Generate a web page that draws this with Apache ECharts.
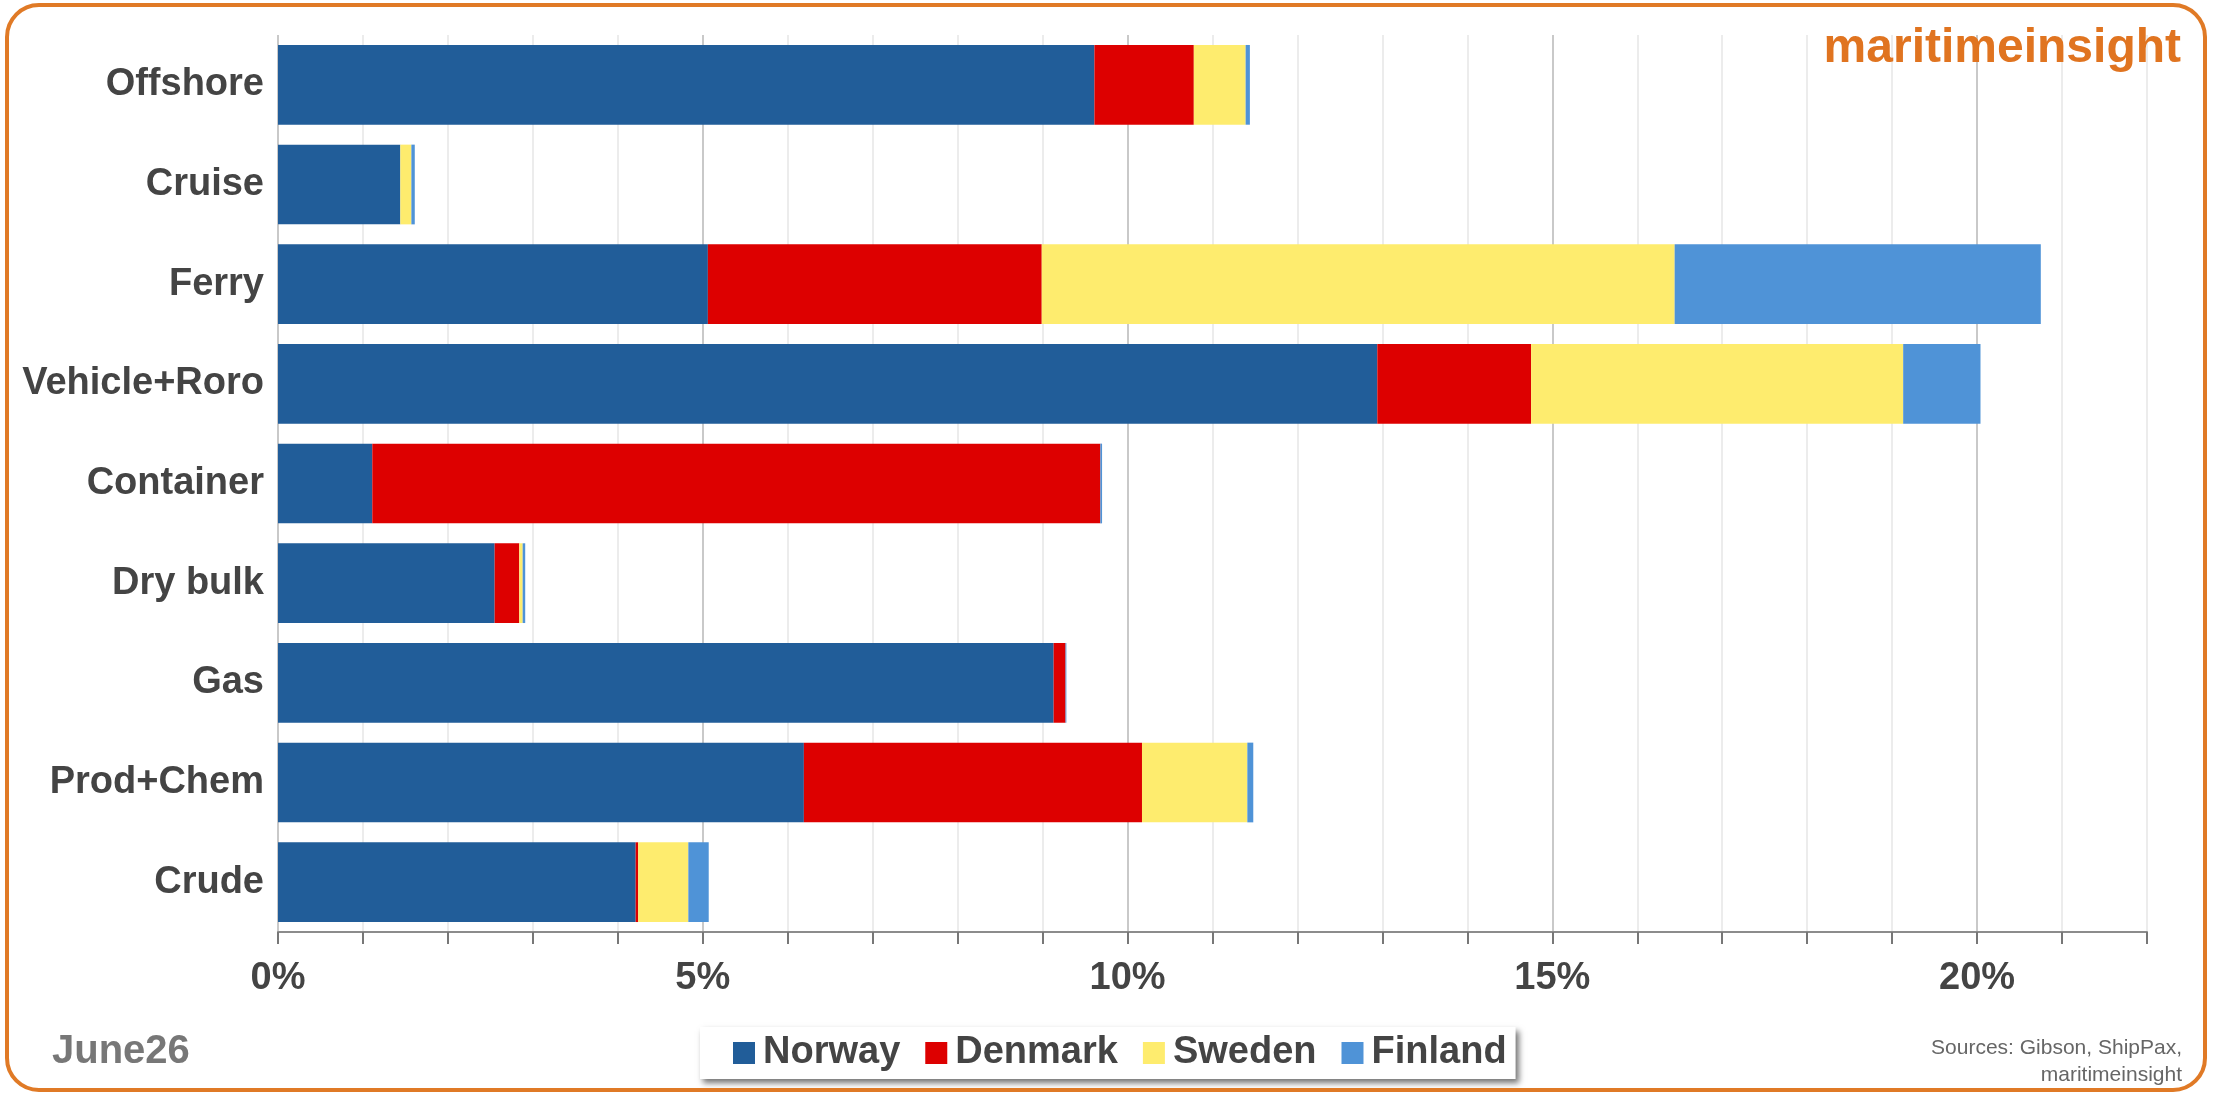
<!DOCTYPE html>
<html>
<head>
<meta charset="utf-8">
<script src="https://cdn.jsdelivr.net/npm/echarts@6/dist/echarts.min.js"></script>
<style>
  html, body { margin: 0; padding: 0; background: #ffffff; }
  #chart { width: 2213px; height: 1096px; }
</style>
</head>
<body>
<div id="chart"></div>
<script>
// Categories, top to bottom
const categories = ['Offshore', 'Cruise', 'Ferry', 'Vehicle+Roro', 'Container', 'Dry bulk', 'Gas', 'Prod+Chem', 'Crude'];
// Share (%) by country, same order as categories
const norway  = [9.61, 1.44, 5.06, 12.94, 1.11, 2.55, 9.13, 6.19, 4.21];
const denmark = [1.17, 0.00, 3.93, 1.81, 8.57, 0.29, 0.14, 3.98, 0.03];
const sweden  = [0.61, 0.13, 7.45, 4.38, 0.00, 0.04, 0.00, 1.24, 0.59];
const finland = [0.05, 0.04, 4.31, 0.91, 0.02, 0.03, 0.01, 0.07, 0.24];
const seriesNames = ['Norway', 'Denmark', 'Sweden', 'Finland'];
const seriesColors = ['#215d99', '#dd0000', '#feec6e', '#4f93d7'];
const xMin = 0, xMax = 22, xStep = 1;

const font = '"Liberation Sans", Arial, sans-serif';
const chart = echarts.init(document.getElementById('chart'), null, { renderer: 'canvas' });

const seriesData = [norway, denmark, sweden, finland];

chart.setOption({
  backgroundColor: '#ffffff',
  animation: false,
  color: seriesColors,
  grid: { left: 278, right: 66, top: 35, bottom: 164, containLabel: false },
  xAxis: {
    type: 'value',
    min: xMin, max: xMax, interval: xStep,
    axisLine: { show: true, lineStyle: { color: '#8c8c8c', width: 2 } },
    axisTick: { show: true, length: 12, lineStyle: { color: '#777', width: 2 } },
    axisLabel: {
      margin: 28,
      fontFamily: font, fontWeight: 'bold', fontSize: 38, color: '#444444',
      formatter: v => (v % 5 === 0 ? v + '%' : '')
    },
    splitLine: { show: true, lineStyle: { color: ['#c9c9c9', '#ececec', '#ececec', '#ececec', '#ececec'], width: 2 } }
  },
  yAxis: {
    type: 'category',
    data: categories,
    inverse: true,
    axisLine: { show: false },
    axisTick: { show: false },
    axisLabel: { margin: 14, fontFamily: font, fontWeight: 'bold', fontSize: 38, color: '#444444' }
  },
  legend: {
    left: 700, top: 1027,
    padding: [7, 9, 7, 33],
    itemGap: 25,
    itemWidth: 22, itemHeight: 22,
    icon: 'rect',
    backgroundColor: '#ffffff',
    shadowColor: 'rgba(0,0,0,0.55)', shadowBlur: 6, shadowOffsetX: 3, shadowOffsetY: 4,
    textStyle: { fontFamily: font, fontWeight: 'bold', fontSize: 38, color: '#444444', padding: [0, 0, 0, 3] },
    data: seriesNames
  },
  series: seriesNames.map((name, i) => ({
    name: name,
    type: 'bar',
    stack: 'total',
    barCategoryGap: '20%',
    data: seriesData[i],
    itemStyle: { color: seriesColors[i] }
  })),
  graphic: [
    {
      type: 'rect', z: 100, silent: true,
      shape: { x: 7, y: 5, width: 2198, height: 1085, r: 32 },
      style: { fill: 'none', stroke: '#e07a26', lineWidth: 4 }
    },
    {
      type: 'text', z: 100,
      x: 2181, y: 49,
      style: { text: 'maritimeinsight', fontFamily: font, fontWeight: 'bold', fontSize: 48, fill: '#e07420', align: 'right', verticalAlign: 'middle' }
    },
    {
      type: 'text', z: 100,
      x: 52, y: 1052,
      style: { text: 'June26', fontFamily: font, fontWeight: 'bold', fontSize: 40, fill: '#777777', align: 'left', verticalAlign: 'middle' }
    },
    {
      type: 'text', z: 100,
      x: 2182, y: 1048,
      style: { text: 'Sources: Gibson, ShipPax,', fontFamily: font, fontSize: 21, fill: '#666666', align: 'right', verticalAlign: 'middle' }
    },
    {
      type: 'text', z: 100,
      x: 2182, y: 1075,
      style: { text: 'maritimeinsight', fontFamily: font, fontSize: 21, fill: '#666666', align: 'right', verticalAlign: 'middle' }
    }
  ]
});
</script>
</body>
</html>
